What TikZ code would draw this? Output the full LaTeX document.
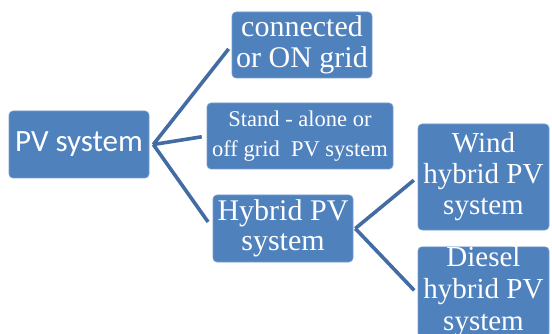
\documentclass[tikz,border=0pt]{standalone}
\usepackage{fontspec}
\setmainfont{Liberation Serif}
\newfontfamily\calibrifont{Carlito}
\usetikzlibrary{positioning}
\definecolor{boxblue}{RGB}{79,129,189}
\definecolor{boxedge}{RGB}{118,158,206}
\definecolor{linkblue}{RGB}{66,108,163}

\begin{document}
\begin{tikzpicture}[
    x=1pt, y=-1pt,
    box/.style={rectangle, fill=boxblue, draw=boxedge, line width=0.6pt,
                rounded corners=4pt, inner sep=0pt, align=center, text=white},
    link/.style={draw=linkblue, line width=3.6pt, shorten >=5pt}
]
\useasboundingbox (0,0) rectangle (552,334);

% Root
\node[box, minimum width=140pt, minimum height=67pt,
      font=\calibrifont\fontsize{31}{34}\selectfont] (pv) at (79,144.5) {PV system};

% First level
\node[box, minimum width=140pt, minimum height=66pt,
      font=\fontsize{30}{31}\selectfont] (conn) at (302,45) {connected\\or ON grid};
\node[box, minimum width=186pt, minimum height=66pt,
      font=\fontsize{22.5}{30}\selectfont] (stand) at (300,136) {Stand - alone or\\off grid\ \ PV system};
\node[box, minimum width=140pt, minimum height=67pt,
      font=\fontsize{30}{30}\selectfont] (hybrid) at (283,228.5) {Hybrid PV\\system};

% Second level
\node[box, minimum width=131pt, minimum height=106pt,
      font=\fontsize{29}{31}\selectfont] (wind) at (483.5,177) {Wind\\hybrid PV\\system};
\node[box, minimum width=131pt, minimum height=90pt,
      font=\fontsize{29}{32}\selectfont] (diesel) at (483.5,292) {Diesel\\hybrid PV\\system};

% Connectors
\coordinate (pvhub) at ([xshift=4pt]pv.east);
\coordinate (hyhub) at ([xshift=2pt]hybrid.east);
\draw[link] (pvhub) -- (conn.west);
\draw[link] (pvhub) -- (stand.west);
\draw[link, shorten >=8pt] (pvhub) -- (hybrid.west);
\draw[link] (hyhub) -- (wind.west);
\draw[link] (hyhub) -- ([yshift=-2pt]diesel.west);

\end{tikzpicture}
\end{document}
